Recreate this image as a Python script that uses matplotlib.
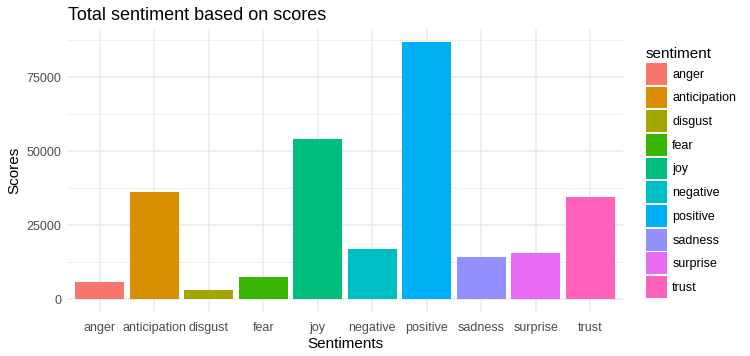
import matplotlib
matplotlib.use("Agg")
import matplotlib.pyplot as plt
from matplotlib.patches import Patch
import numpy as np

plt.rcParams['font.family'] = ['Liberation Sans', 'DejaVu Sans']

categories = ["anger", "anticipation", "disgust", "fear", "joy", "negative",
              "positive", "sadness", "surprise", "trust"]
scores = [5750, 36200, 3050, 7450, 54100, 16900, 86950, 14200, 15550, 34500]
colors = ["#F8766D", "#D89000", "#A3A500", "#39B600", "#00BF7D", "#00BFC4",
          "#00B0F6", "#9590FF", "#E76BF3", "#FF62BC"]
yticks = [0, 25000, 50000, 75000]
yticklabels = ["0", "25000", "50000", "75000"]

fig = plt.figure(figsize=(7.5, 3.56), dpi=100)
ax = fig.add_axes([67/750, 44/356, 556/750, 283/356])

x = np.arange(len(categories))
ax.bar(x, scores, width=0.9, color=colors, zorder=2)

n = len(categories)
ax.set_xlim(-0.6, n - 1 + 0.6)
ymax = max(scores)
ax.set_ylim(-0.05 * ymax, 1.05 * ymax)

ax.set_yticks(yticks)
ax.set_yticklabels(yticklabels)
ax.set_yticks([12500, 37500, 62500, 87500], minor=True)
ax.set_xticks(x)
ax.set_xticklabels(categories)

ax.grid(True, which='major', color='#EBEBEB', linewidth=1.1, zorder=0)
ax.grid(True, which='minor', axis='y', color='#EBEBEB', linewidth=0.55, zorder=0)
ax.set_axisbelow(True)
for s in ax.spines.values():
    s.set_visible(False)
ax.tick_params(axis='both', which='both', length=0, labelsize=9, labelcolor='#4D4D4D')
ax.tick_params(axis='x', pad=7)
ax.tick_params(axis='y', pad=4)

ax.set_xlabel("Sentiments", fontsize=11, labelpad=2)
ax.set_ylabel("Scores", fontsize=11, labelpad=4)
fig.text(68/750, 1 - 16/356, "Total sentiment based on scores", fontsize=13,
         ha='left', va='center')

handles = [Patch(facecolor=c, edgecolor='none', label=l) for c, l in zip(colors, categories)]
leg = fig.legend(handles=handles, title="sentiment", loc='upper left',
                 bbox_to_anchor=(646/750, 1 - 47/356), frameon=False,
                 fontsize=9, title_fontsize=11, handlelength=1.7, handleheight=2.3,
                 labelspacing=0.155, handletextpad=0.4, borderaxespad=0, borderpad=0.0)
leg._legend_box.align = "left"

fig.savefig("out.png", dpi=100)
